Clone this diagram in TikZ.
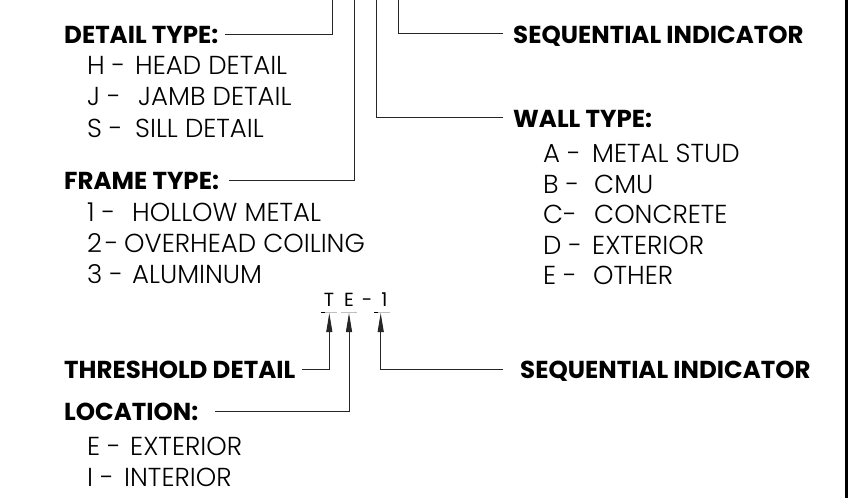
\documentclass[tikz,border=0pt]{standalone}
\usepackage{fontspec}
\setmainfont{Poppins}[UprightFont={Poppins Light}, BoldFont={Poppins Bold}]
\newfontfamily\tagfont{Poppins}
\usetikzlibrary{arrows.meta}
\begin{document}
\begin{tikzpicture}[x=1pt,y=-1pt,
  lbl/.style={anchor=base west, inner sep=0pt, font=\fontsize{24.5}{28}\selectfont\bfseries},
  itm/.style={anchor=base west, inner sep=0pt, font=\fontsize{26}{30}\selectfont},
  tag/.style={anchor=base, inner sep=0pt, font=\tagfont\fontsize{19}{22}\selectfont},
  lead/.style={line width=0.9pt, draw=black!85},
  arr/.style={lead, -{Triangle[length=19pt,width=6pt]}},
  uline/.style={line width=0.8pt, draw=black!25},
  tick/.style={line width=0.8pt, draw=black}]
\useasboundingbox (0,0) rectangle (848,498);
% right border
\draw[line width=3pt] (846.5,0) -- (846.5,498);

% ---------- upper key ----------
\node[lbl] (dt) at (64,43) {DETAIL TYPE:};
\node[itm] (hk) at (87,74) {H -};   \node[itm] (hd) at (135,74) {HEAD DETAIL};
\node[itm] (jk) at (87,105) {J -};  \node[itm] (jd) at (138,105) {JAMB DETAIL};
\node[itm] (sk) at (87,137) {S -};  \node[itm] (sd) at (135,137) {SILL DETAIL};

\node[lbl] (ft) at (64,189) {FRAME TYPE:};
\node[itm] (k1) at (87,221) {1 -};  \node[itm] (d1) at (132,221) {HOLLOW METAL};
\node[itm] (k2) at (87,252) {2\hspace{3pt}-};  \node[itm] (d2) at (124,252) {OVERHEAD COILING};
\node[itm] (k3) at (87,283) {3 -};  \node[itm] (d3) at (132,283) {ALUMINUM};

\node[lbl] (sq1) at (513,43) {SEQUENTIAL INDICATOR};
\node[lbl] (wt) at (513,127) {WALL TYPE:};
\node[itm] (ka) at (543,162) {A -};  \node[itm] (da) at (592,162) {METAL STUD};
\node[itm] (kb) at (543,193) {B -};  \node[itm] (db) at (594,193) {CMU};
\node[itm] (kc) at (543,223) {C-};   \node[itm] (dc) at (594,223) {CONCRETE};
\node[itm] (kd) at (543,254) {D -};  \node[itm] (dd) at (592,254) {EXTERIOR};
\node[itm] (ke) at (543,284) {E -};  \node[itm] (de) at (593,284) {OTHER};

\coordinate (dtA) at (225,34);  \coordinate (dtT) at (332,0);
\coordinate (ftA) at (229,180); \coordinate (ftT) at (354,0);
\coordinate (wtA) at (503,117); \coordinate (wtT) at (376,0);
\coordinate (sqA) at (503,33);  \coordinate (sqT) at (398,0);
\draw[lead] (dtA) -| (dtT);
\draw[lead] (ftA) -| (ftT);
\draw[lead] (wtA) -| (wtT);
\draw[lead] (sqA) -| (sqT);

% ---------- threshold tag ----------
\node[tag] (tT) at (329,306) {T};
\node[tag] (tE) at (349,306) {E};
\node[tag] (tD) at (367,306) {-};
\node[tag] (t1) at (384.5,306) {1};
\draw[uline] (321,312) -- (337,312);
\draw[uline] (341,312) -- (357,312);
\draw[uline] (374,312) -- (390,312);
\draw[tick] (321,312) -- (325,312);
\draw[tick] (374,312) -- (378,312);

\coordinate (aT) at (329.3,313);
\coordinate (aE) at (349,313);
\coordinate (a1) at (380.7,313);

\node[lbl] (th) at (64,378) {THRESHOLD DETAIL};
\node[lbl] (lo) at (64,420) {LOCATION:};
\node[itm] (kE) at (87,455) {E -};  \node[itm] (dE) at (130,455) {EXTERIOR};
\node[itm] (kI) at (87,486) {I -};  \node[itm] (dI) at (124,486) {INTERIOR};
\node[lbl] (sq2) at (520,378) {SEQUENTIAL INDICATOR};

\coordinate (thA) at (302,369);
\coordinate (loA) at (215,411);
\coordinate (sqB) at (503,369);
\draw[arr] (thA) -| (aT);
\draw[arr] (loA) -| (aE);
\draw[arr] (sqB) -| (a1);
\end{tikzpicture}
\end{document}
